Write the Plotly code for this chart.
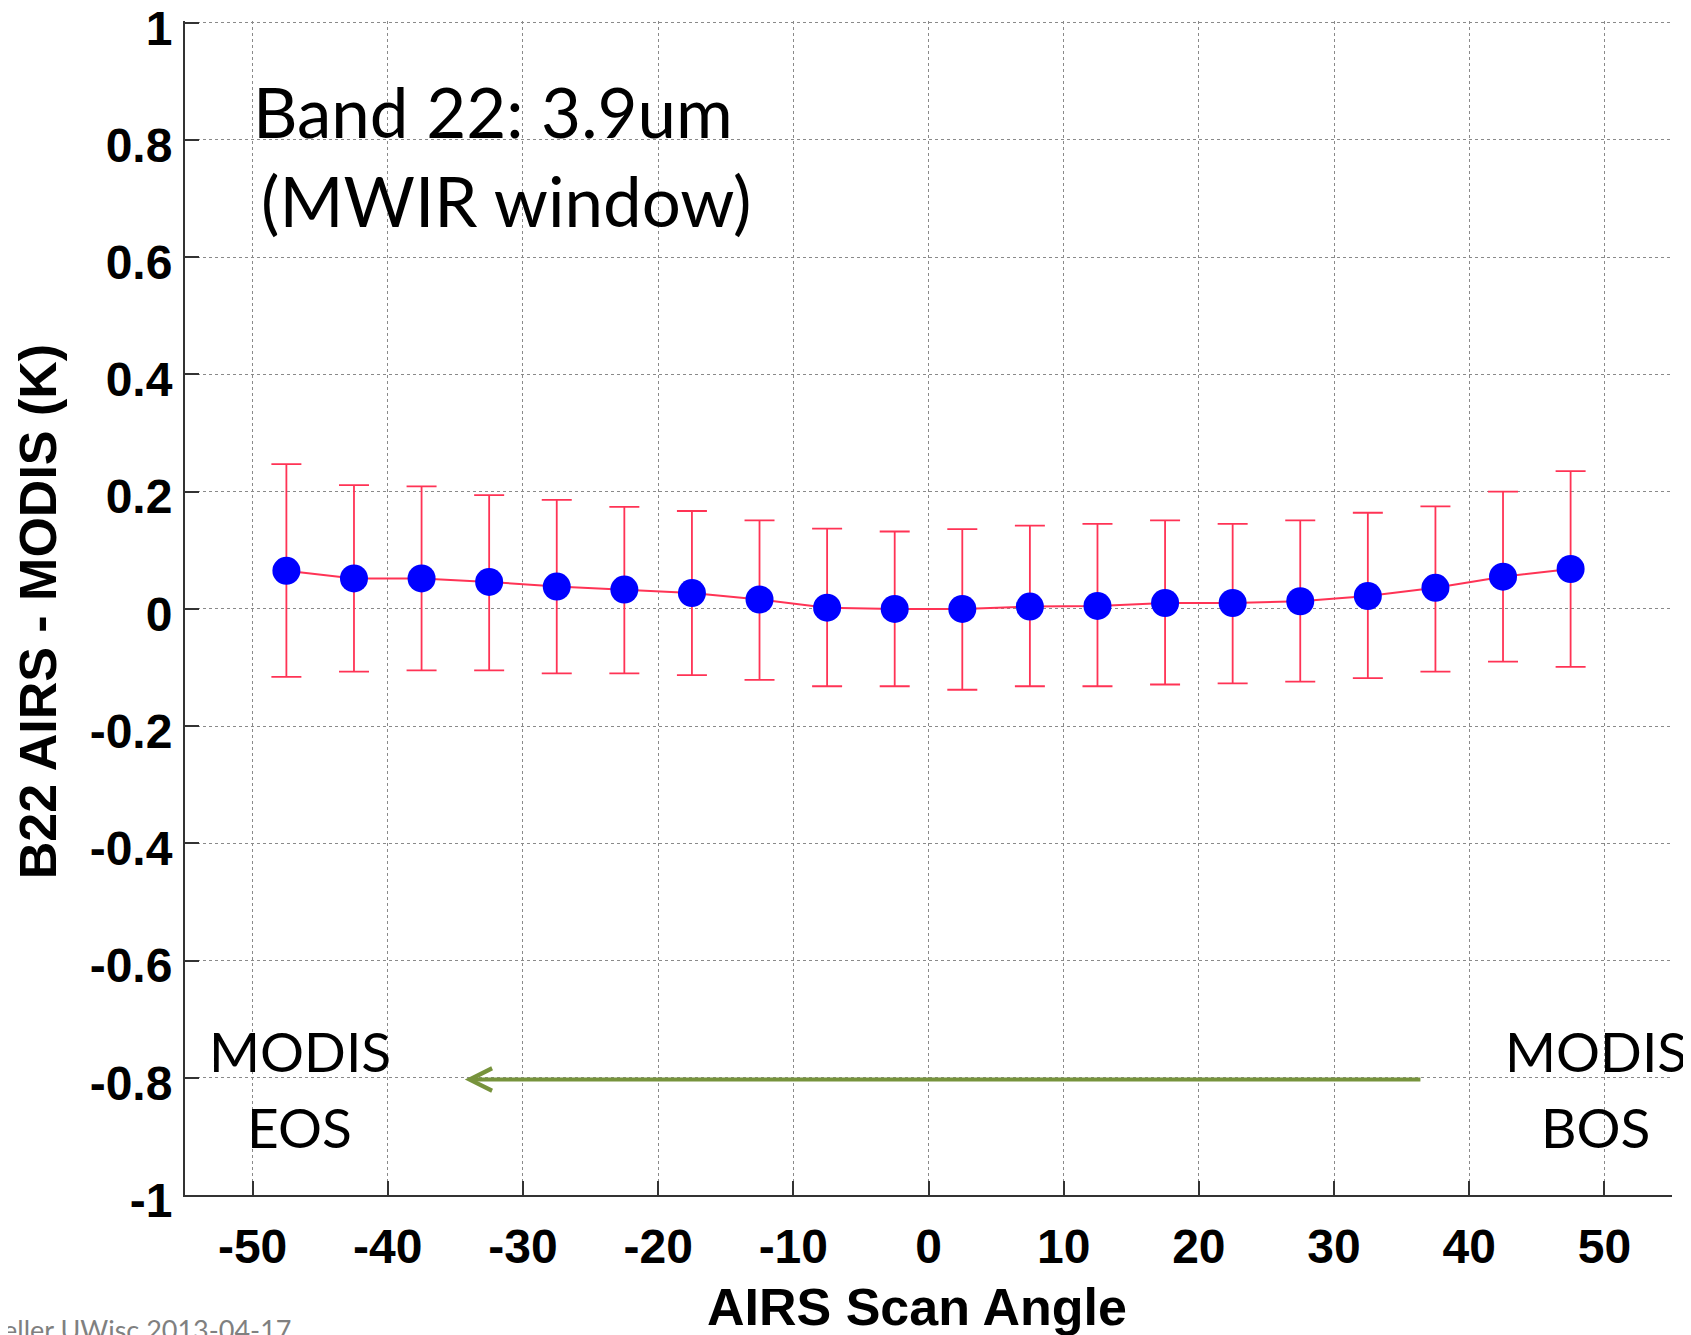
import plotly.graph_objects as go

# ---- data ----
scan_angle = [-47.5, -42.5, -37.5, -32.5, -27.5, -22.5, -17.5, -12.5, -7.5, -2.5,
              2.5, 7.5, 12.5, 17.5, 22.5, 27.5, 32.5, 37.5, 42.5, 47.5]
mean_diff = [0.065, 0.052, 0.052, 0.046, 0.038, 0.033, 0.027, 0.016, 0.002, 0.000,
             0.000, 0.004, 0.005, 0.010, 0.010, 0.013, 0.022, 0.036, 0.055, 0.068]
upper_bound = [0.247, 0.211, 0.209, 0.194, 0.186, 0.174, 0.167, 0.151, 0.137, 0.132,
               0.136, 0.142, 0.145, 0.151, 0.145, 0.151, 0.164, 0.175, 0.200, 0.235]
lower_bound = [-0.116, -0.107, -0.105, -0.105, -0.110, -0.110, -0.113, -0.121, -0.132, -0.132,
               -0.138, -0.132, -0.132, -0.129, -0.127, -0.124, -0.118, -0.107, -0.090, -0.099]

x_ticks = [-50, -40, -30, -20, -10, 0, 10, 20, 30, 40, 50]
x_tick_text = ["-50", "-40", "-30", "-20", "-10", "0", "10", "20", "30", "40", "50"]
y_ticks = [-1, -0.8, -0.6, -0.4, -0.2, 0, 0.2, 0.4, 0.6, 0.8, 1]
y_tick_text = ["-1", "-0.8", "-0.6", "-0.4", "-0.2", "0", "0.2", "0.4", "0.6", "0.8", "1"]

err_plus = [u - m for u, m in zip(upper_bound, mean_diff)]
err_minus = [m - l for m, l in zip(mean_diff, lower_bound)]

RED = "#ff3355"
BLUE = "#0000ff"
GREEN = "#77933c"
TICK_FONT = dict(family="Liberation Sans, Arial, sans-serif", size=48, color="black", weight="bold")
ANN_FONT = "Lato, Calibri, sans-serif"

fig = go.Figure()
fig.add_trace(go.Scatter(
    x=scan_angle, y=mean_diff, mode="lines+markers",
    line=dict(color=RED, width=2),
    marker=dict(color=BLUE, size=28, line=dict(width=0)),
    error_y=dict(type="data", symmetric=False, array=err_plus, arrayminus=err_minus,
                 color=RED, thickness=1.8, width=15),
    showlegend=False,
))

axis_common = dict(
    showgrid=True, gridcolor="#8a8a8a", griddash="dot", gridwidth=1,
    showline=True, linecolor="#333333", linewidth=2,
    ticks="inside", ticklen=14, tickcolor="#333333", tickwidth=2,
    tickfont=TICK_FONT, zeroline=False, mirror=False,
    ticklabeloverflow="allow", automargin=False,
)

fig.update_xaxes(range=[-55, 55], tickmode="array", tickvals=x_ticks, ticktext=x_tick_text,
                 ticklabelstandoff=8, **axis_common)
fig.update_yaxes(range=[-1, 1.003], tickmode="array", tickvals=y_ticks, ticktext=y_tick_text,
                 ticklabelstandoff=1, ticklabelshift=5, **axis_common)

# green arrow (MODIS scan direction BOS -> EOS)
fig.add_annotation(x=-34.3, y=-0.803, ax=36.5, ay=-0.803, xref="x", yref="y",
                   axref="x", ayref="y", text="", showarrow=True,
                   arrowhead=5, arrowsize=1.1, arrowwidth=4, arrowcolor=GREEN, standoff=0)

def txt(x, y, s, size, xanchor="left", xref="x", yref="y", color="black", family=ANN_FONT, weight="normal", angle=0):
    fig.add_annotation(x=x, y=y, xref=xref, yref=yref, text=s, showarrow=False,
                       xanchor=xanchor, yanchor="middle", textangle=angle,
                       font=dict(family=family, size=size, color=color, weight=weight))

txt(-50.13, 0.849, "Band 22: 3.9um", 69)
txt(-49.55, 0.697, "(MWIR window)", 69)
txt(-46.53, -0.755, "MODIS", 55, xanchor="center")
txt(-46.53, -0.884, "EOS", 55, xanchor="center")
txt(49.37, -0.755, "MODIS", 55, xanchor="center")
txt(49.37, -0.884, "BOS", 55, xanchor="center")

# axis titles
txt(0.492, -0.0954, "AIRS Scan Angle", 52, xanchor="center", xref="paper", yref="paper",
    family="Liberation Sans, Arial, sans-serif", weight="bold")
txt(-0.0992, 0.4968, "B22 AIRS - MODIS (K)", 52, xanchor="center", xref="paper", yref="paper",
    family="Liberation Sans, Arial, sans-serif", weight="bold", angle=-90)

# footer credit (cut off at left edge)
txt(-0.1235, -0.1142, "eller UWisc 2013-04-17", 27, xref="paper", yref="paper", color="#808080")

fig.update_layout(
    width=1683, height=1327,
    margin=dict(l=177, r=19, t=13, b=140),
    paper_bgcolor="white", plot_bgcolor="white",
)

fig.write_html("out.html")
